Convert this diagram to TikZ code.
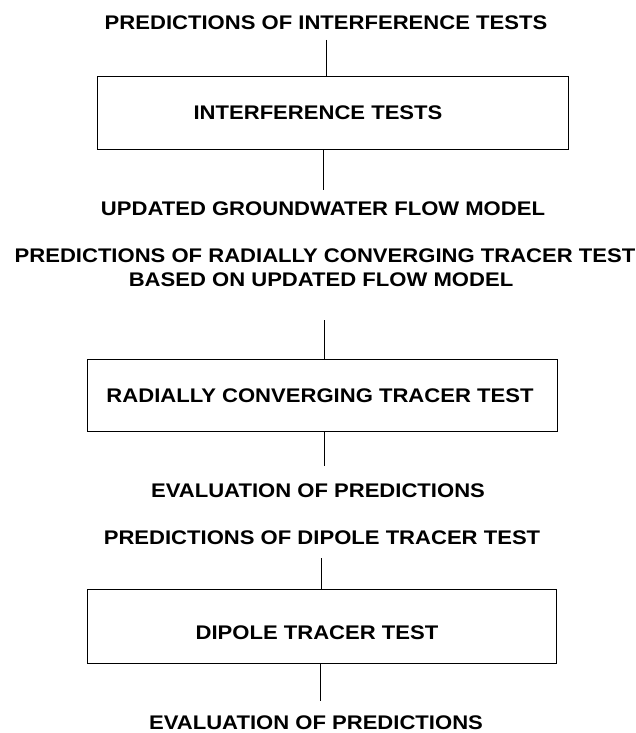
\documentclass[tikz,border=0pt]{standalone}
\usepackage{fontspec}
\setmainfont{Liberation Sans}[FakeStretch=1.12]
\begin{document}
\begin{tikzpicture}[x=1pt,y=-1pt,
  lbl/.style={font=\fontsize{19.7}{23}\selectfont\bfseries, inner sep=0pt, anchor=base},
  boxn/.style={draw, line width=0.9pt, inner sep=0pt},
  conn/.style={line width=0.7pt}]
\useasboundingbox (0,0) rectangle (635,733);
% texts
\node[lbl] (t1) at (326,29.5) {PREDICTIONS OF INTERFERENCE TESTS};
\node[lbl] (t2) at (323,215) {UPDATED GROUNDWATER FLOW MODEL};
\node[lbl] (t3a) at (325,262) {PREDICTIONS OF RADIALLY CONVERGING TRACER TEST};
\node[lbl] (t3b) at (321,286) {BASED ON UPDATED FLOW MODEL};
\node[lbl] (t4) at (318,497) {EVALUATION OF PREDICTIONS};
\node[lbl] (t5) at (322,544) {PREDICTIONS OF DIPOLE TRACER TEST};
\node[lbl] (t6) at (316,729) {EVALUATION OF PREDICTIONS};
% boxes
\node[boxn, minimum width=471pt, minimum height=73pt] (b1) at (332.5,112.5) {};
\node[lbl] (l1) at (318,120) {INTERFERENCE TESTS};
\node[boxn, minimum width=470pt, minimum height=72pt] (b2) at (322,395) {};
\node[lbl] (l2) at (320,402) {RADIALLY CONVERGING TRACER TEST};
\node[boxn, minimum width=469pt, minimum height=74pt] (b3) at (321.5,626) {};
\node[lbl] (l3) at (317,639) {DIPOLE TRACER TEST};
% connector ends
\coordinate (c1) at (326,40);
\coordinate (c2) at (323,190);
\coordinate (c3) at (324,320);
\coordinate (c4) at (324,466);
\coordinate (c5) at (321,558);
\coordinate (c6) at (320,701);
% connectors
\draw[conn] (c1) -- (c1 |- b1.north);
\draw[conn] (c2 |- b1.south) -- (c2);
\draw[conn] (c3) -- (c3 |- b2.north);
\draw[conn] (c4 |- b2.south) -- (c4);
\draw[conn] (c5) -- (c5 |- b3.north);
\draw[conn] (c6 |- b3.south) -- (c6);
\end{tikzpicture}
\end{document}
